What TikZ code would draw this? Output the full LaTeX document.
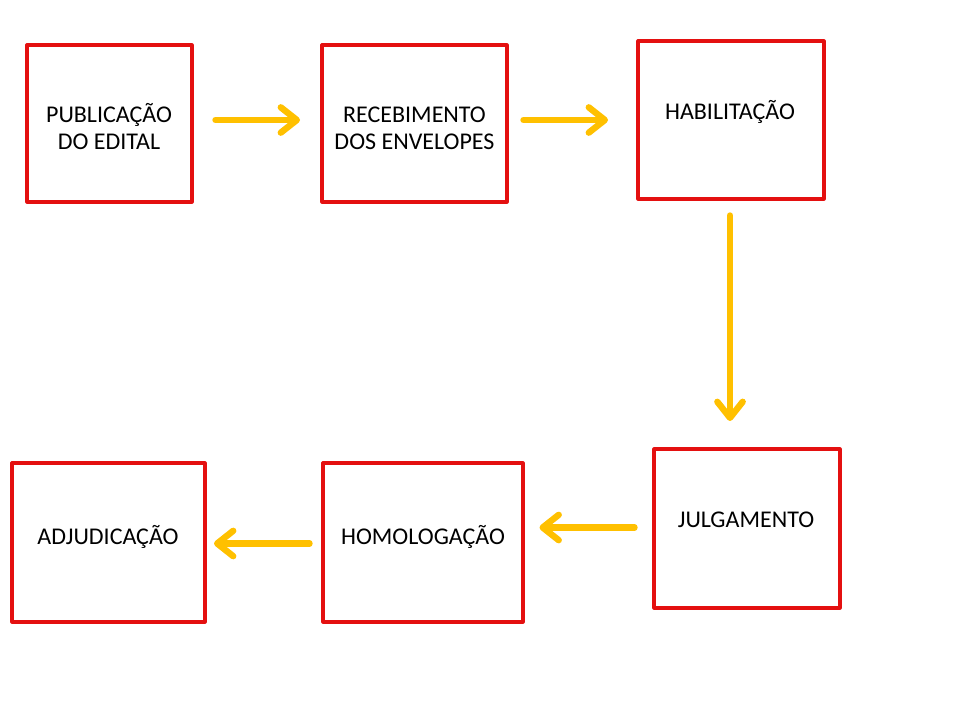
\documentclass[tikz,border=0pt]{standalone}
\usepackage{fontspec}
\setmainfont{Carlito}
\usetikzlibrary{arrows.meta}
\definecolor{boxred}{RGB}{228,16,16}
\definecolor{arrowgold}{RGB}{255,192,0}
\tikzset{
  box/.style={draw=boxred, line width=2.4pt, line join=round, rectangle, inner sep=0pt},
  lbl/.style={anchor=base, align=center, inner sep=0pt, font=\fontsize{18}{20.25}\selectfont},
  arr/.style={draw=arrowgold, line width=4.8pt, line cap=round,
    -{Straight Barb[round, length=12pt, width=19pt]}}
}
\begin{document}
\begin{tikzpicture}[x=0.75pt, y=-0.75pt]
\useasboundingbox (0,0) rectangle (960,720);
% boxes
\node[box, minimum width=165*0.75pt, minimum height=157*0.75pt] (b1) at (109.5,123.5) {};
\node[box, minimum width=185*0.75pt, minimum height=157*0.75pt] (b2) at (414.5,123.5) {};
\node[box, minimum width=186*0.75pt, minimum height=158*0.75pt] (b3) at (731,120) {};
\node[box, minimum width=186*0.75pt, minimum height=159*0.75pt] (b4) at (747,528.5) {};
\node[box, minimum width=200*0.75pt, minimum height=159*0.75pt] (b6) at (423,542.5) {};
\node[box, minimum width=193*0.75pt, minimum height=159*0.75pt] (b5) at (108.5,542.5) {};
% labels (base = baseline of last line)
\node[lbl] (t1) at (109,150) {PUBLICAÇÃO\\DO EDITAL};
\node[lbl] (t2) at (414.5,150) {RECEBIMENTO\\DOS ENVELOPES};
\node[lbl] (t3) at (730,119.3) {HABILITAÇÃO};
\node[lbl] (t4) at (746,527.3) {JULGAMENTO};
\node[lbl] (t6) at (423,544) {HOMOLOGAÇÃO};
\node[lbl] (t5) at (108,544) {ADJUDICAÇÃO};
% arrow end points
\coordinate (a1s) at (215.5,120); \coordinate (a1e) at (300,120);
\coordinate (a2s) at (523.5,120); \coordinate (a2e) at (608,120);
\coordinate (a3s) at (730,215.5); \coordinate (a3e) at (730,421);
\coordinate (a4s) at (634.5,527.5); \coordinate (a4e) at (539.5,527.5);
\coordinate (a5s) at (309.5,543.5); \coordinate (a5e) at (214,543.5);
\draw[arr] (a1s) -- (a1e);
\draw[arr] (a2s) -- (a2e);
\draw[arr] (a3s) -- (a3e);
\draw[arr] (a4s) -- (a4e);
\draw[arr] (a5s) -- (a5e);
\end{tikzpicture}
\end{document}
